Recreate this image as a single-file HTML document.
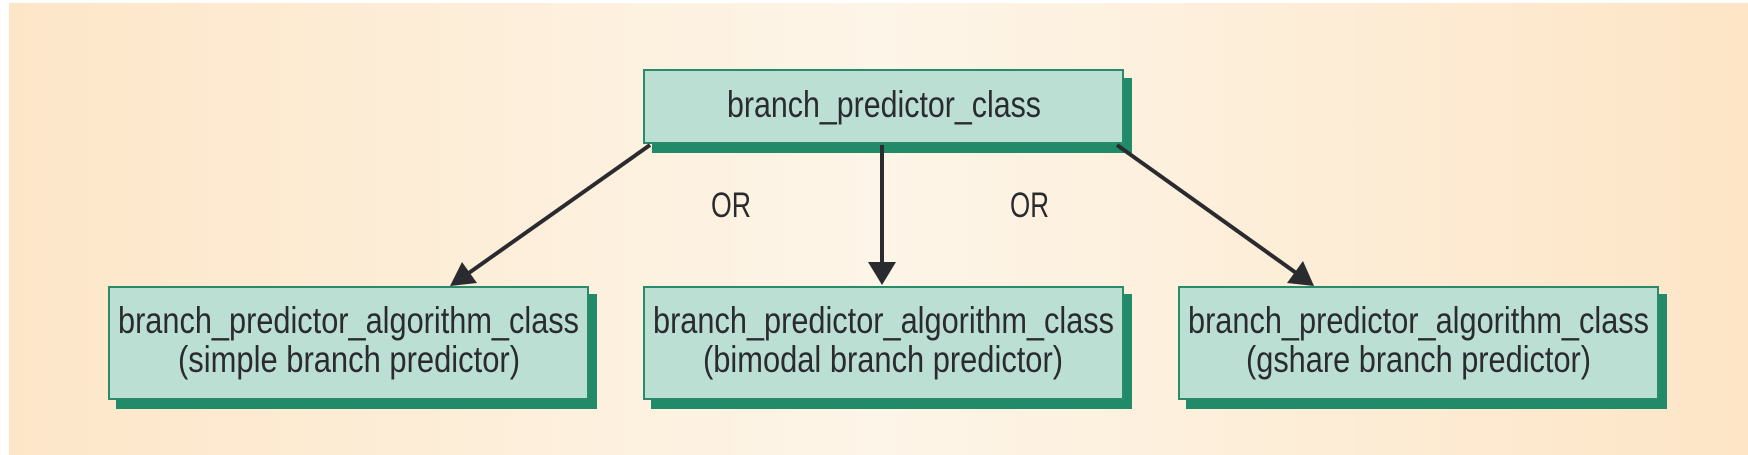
<!DOCTYPE html>
<html><head><meta charset="utf-8"><style>
html,body{margin:0;padding:0;background:#fff;width:1748px;height:455px;overflow:hidden}
svg{display:block}
text{font-family:"Liberation Sans Narrow","Liberation Sans",sans-serif;fill:#2a2b2e}
</style></head><body>
<svg width="1748" height="455" viewBox="0 0 1748 455" xmlns="http://www.w3.org/2000/svg">
<defs>
<linearGradient id="bg" x1="0" x2="1" y1="0" y2="0">
<stop offset="0" stop-color="#fde6c8"/>
<stop offset="0.5" stop-color="#fdf5e8"/>
<stop offset="1" stop-color="#fde5c6"/>
</linearGradient>
</defs>
<rect x="9" y="3" width="1739" height="452" fill="url(#bg)"/>

<rect x="652" y="78" width="480" height="75" fill="#218a69"/>
<rect x="644" y="70" width="479" height="73" fill="#bcdfd4" stroke="#2a8a6a" stroke-width="2"/>
<text x="727" y="117" font-size="37" textLength="314" lengthAdjust="spacingAndGlyphs">branch_predictor_class</text>

<g stroke="#2a2b2e" stroke-width="4" fill="none">
<line x1="650" y1="145" x2="466" y2="275"/>
<line x1="882" y1="145" x2="882" y2="264"/>
<line x1="1117" y1="145" x2="1299" y2="275"/>
</g>
<g fill="#2a2b2e">
<polygon points="450,286 462,262 477,283"/>
<polygon points="868,262 896,262 882,285"/>
<polygon points="1314,286 1303,261 1287,283"/>
</g>
<text x="711" y="217" font-size="35" textLength="40" lengthAdjust="spacingAndGlyphs">OR</text>
<text x="1010" y="217" font-size="35" textLength="39" lengthAdjust="spacingAndGlyphs">OR</text>

<rect x="116" y="294" width="481" height="115" fill="#218a69"/>
<rect x="109" y="287" width="479" height="112" fill="#bcdfd4" stroke="#2a8a6a" stroke-width="2"/>
<text x="118" y="333" font-size="37" textLength="461" lengthAdjust="spacingAndGlyphs">branch_predictor_algorithm_class</text>
<text x="178" y="372" font-size="37" textLength="342" lengthAdjust="spacingAndGlyphs">(simple branch predictor)</text>

<rect x="651" y="294" width="481" height="115" fill="#218a69"/>
<rect x="644" y="287" width="479" height="112" fill="#bcdfd4" stroke="#2a8a6a" stroke-width="2"/>
<text x="653" y="333" font-size="37" textLength="461" lengthAdjust="spacingAndGlyphs">branch_predictor_algorithm_class</text>
<text x="703" y="372" font-size="37" textLength="360" lengthAdjust="spacingAndGlyphs">(bimodal branch predictor)</text>

<rect x="1186" y="294" width="481" height="115" fill="#218a69"/>
<rect x="1179" y="287" width="479" height="112" fill="#bcdfd4" stroke="#2a8a6a" stroke-width="2"/>
<text x="1188" y="333" font-size="37" textLength="461" lengthAdjust="spacingAndGlyphs">branch_predictor_algorithm_class</text>
<text x="1246" y="372" font-size="37" textLength="345" lengthAdjust="spacingAndGlyphs">(gshare branch predictor)</text>
</svg>
</body></html>
